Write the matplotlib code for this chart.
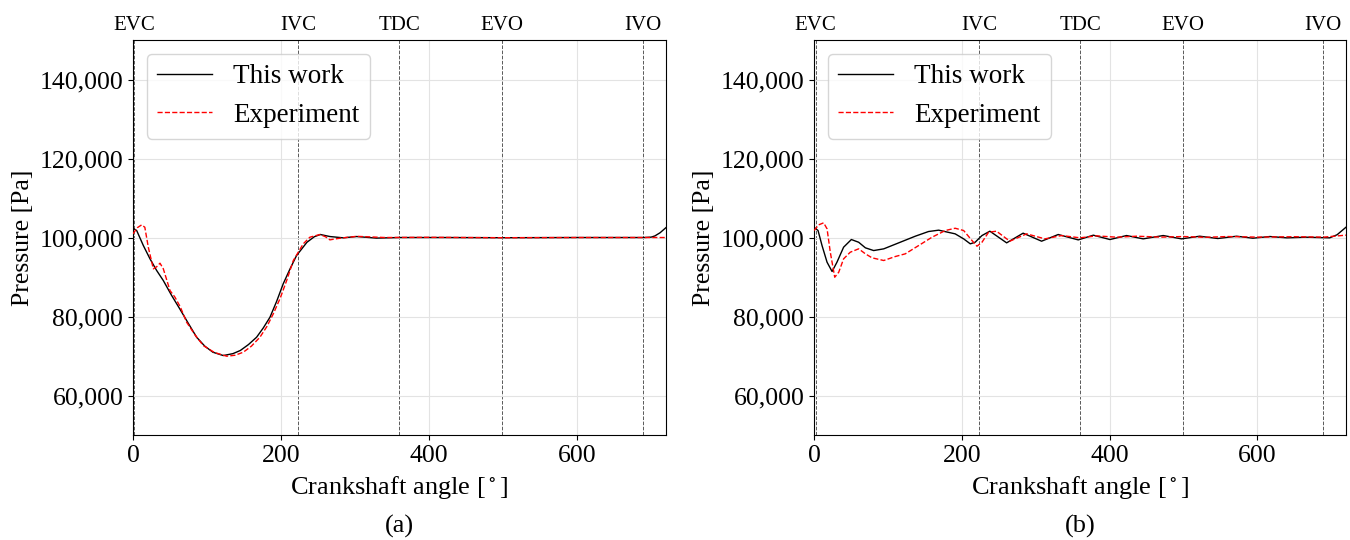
import numpy as np
import matplotlib.pyplot as plt
from matplotlib.ticker import FuncFormatter

plt.rcParams['font.family'] = ['Liberation Serif', 'DejaVu Serif']
plt.rcParams['mathtext.fontset'] = 'stix'

# valve events [deg]
event_names = ['EVC', 'IVC', 'TDC', 'EVO', 'IVO']
event_angles = [2, 223, 360, 499, 689]

# (a) simulation
a_sim_ang = [0, 5, 14, 23, 32, 41, 52, 63, 75, 86, 97, 108, 122, 135, 145, 156, 167, 176, 185,
             194, 203, 212, 221, 235, 245, 253, 266, 284, 302, 329, 360, 420, 500, 600, 690, 700, 705, 712, 720]
a_sim_p = [102350, 101770, 97970, 94600, 91650, 89100, 85400, 82000, 78200, 74760, 72500, 70960, 70120,
           70600, 71400, 72900, 74760, 77100, 79800, 83800, 88300, 92000, 95440, 98800, 100200, 100760,
           100250, 99920, 100250, 99850, 100000, 100000, 99950, 100000, 100000, 100100, 100400, 101200, 102500]

# (a) experiment
a_exp_ang = [0, 6, 11.7, 16, 20.7, 27.5, 32, 36.5, 41, 50, 56.7, 64, 72.5, 84, 95, 110, 126.6, 138, 149,
             160, 171.5, 181, 189.6, 199, 207.6, 216.6, 230, 239, 252.6, 260, 266, 275, 284, 302, 340,
             400, 500, 600, 720]
a_exp_p = [100930, 102500, 103200, 102600, 97550, 92070, 92600, 93500, 92070, 86580, 84900, 82400, 78550,
           75300, 72650, 70900, 69950, 70200, 70960, 72500, 74760, 77500, 80700, 84700, 89100, 94170,
           98400, 100080, 100760, 100200, 99410, 99700, 99920, 100300, 100000, 100050, 99950, 100000, 100000]

# (b) simulation
b_sim_ang = [0, 5.4, 10.8, 17.6, 24.4, 31, 40, 50.5, 60.4, 69.5, 80.7, 94.3, 114.6, 137, 155, 168.7,
             191, 202.5, 211.5, 218, 227.3, 238, 260.7, 283, 308, 330.5, 357.6, 378, 400.5, 423, 445.5,
             472.6, 497.5, 522, 546.6, 572, 594, 617, 640, 666, 698, 708, 720]
b_sim_p = [102600, 101770, 97970, 93750, 91400, 93750, 97550, 99490, 98800, 97390, 96700, 97130, 98650,
           100330, 101520, 101860, 100930, 99660, 98400, 98800, 100500, 101600, 98650, 101100, 99070,
           100760, 99400, 100590, 99490, 100500, 99660, 100500, 99660, 100330, 99750, 100330, 99830,
           100250, 99920, 100080, 99920, 100700, 102600]

# (b) experiment
b_exp_ang = [0, 6.3, 13, 17.6, 22, 28, 33.4, 40, 49, 60.4, 69.5, 78.5, 94.3, 110, 123.5, 141.6, 159.7,
             177.7, 191, 202.5, 213.8, 220.5, 227.3, 236.3, 247, 265, 287.8, 312.5, 335, 360, 382.5,
             409.6, 436.6, 470, 500, 530, 560, 600, 650, 690, 720]
b_exp_p = [101770, 103210, 103720, 102200, 96280, 89950, 91210, 94600, 96280, 97140, 95870, 94860, 94180,
           95190, 95870, 97970, 100080, 101770, 102350, 101770, 99240, 97800, 98800, 101350, 101600,
           99070, 100930, 99660, 100500, 99920, 100420, 100080, 100330, 100100, 100250, 100050, 100250,
           100100, 100200, 100100, 100600]

fig = plt.figure(figsize=(13.5, 5.4), dpi=100)
ax_a = fig.add_axes([0.0985, 0.1944, 0.3948, 0.7315])
ax_b = fig.add_axes([0.603, 0.1944, 0.394, 0.7315])

panels = [(ax_a, a_sim_ang, a_sim_p, a_exp_ang, a_exp_p, '(a)'),
          (ax_b, b_sim_ang, b_sim_p, b_exp_ang, b_exp_p, '(b)')]

for ax, sa, sp, ea, ep, tag in panels:
    ax.grid(True, color='#e3e3e3', lw=0.8, zorder=0)
    for name, ang in zip(event_names, event_angles):
        ax.axvline(ang, color='0.35', ls='--', lw=0.7, zorder=1)
        ax.text(ang, 1.012, name, transform=ax.get_xaxis_transform(),
                ha='center', va='bottom', fontsize=15)
    ax.plot(sa, sp, color='black', lw=1.0, label='This work', zorder=3)
    ax.plot(ea, ep, color='red', ls='--', lw=1.0, label='Experiment', zorder=3)
    ax.set_xlim(0, 720)
    ax.set_ylim(50000, 150000)
    ax.set_xticks([0, 200, 400, 600])
    ax.set_yticks([60000, 80000, 100000, 120000, 140000])
    ax.yaxis.set_major_formatter(FuncFormatter(lambda v, p: f'{int(v):,}'))
    ax.tick_params(labelsize=18.5)
    ax.set_xlabel(r'Crankshaft angle [$\,^{\circ}\,$]', fontsize=19, labelpad=5)
    ax.set_ylabel('Pressure [Pa]', fontsize=18.5, labelpad=4)
    ax.legend(loc='upper left', fontsize=19.5)
    ax.text(0.5, -0.232, tag, transform=ax.transAxes, ha='center', va='center', fontsize=19)

fig.savefig('out.png', dpi=100)
